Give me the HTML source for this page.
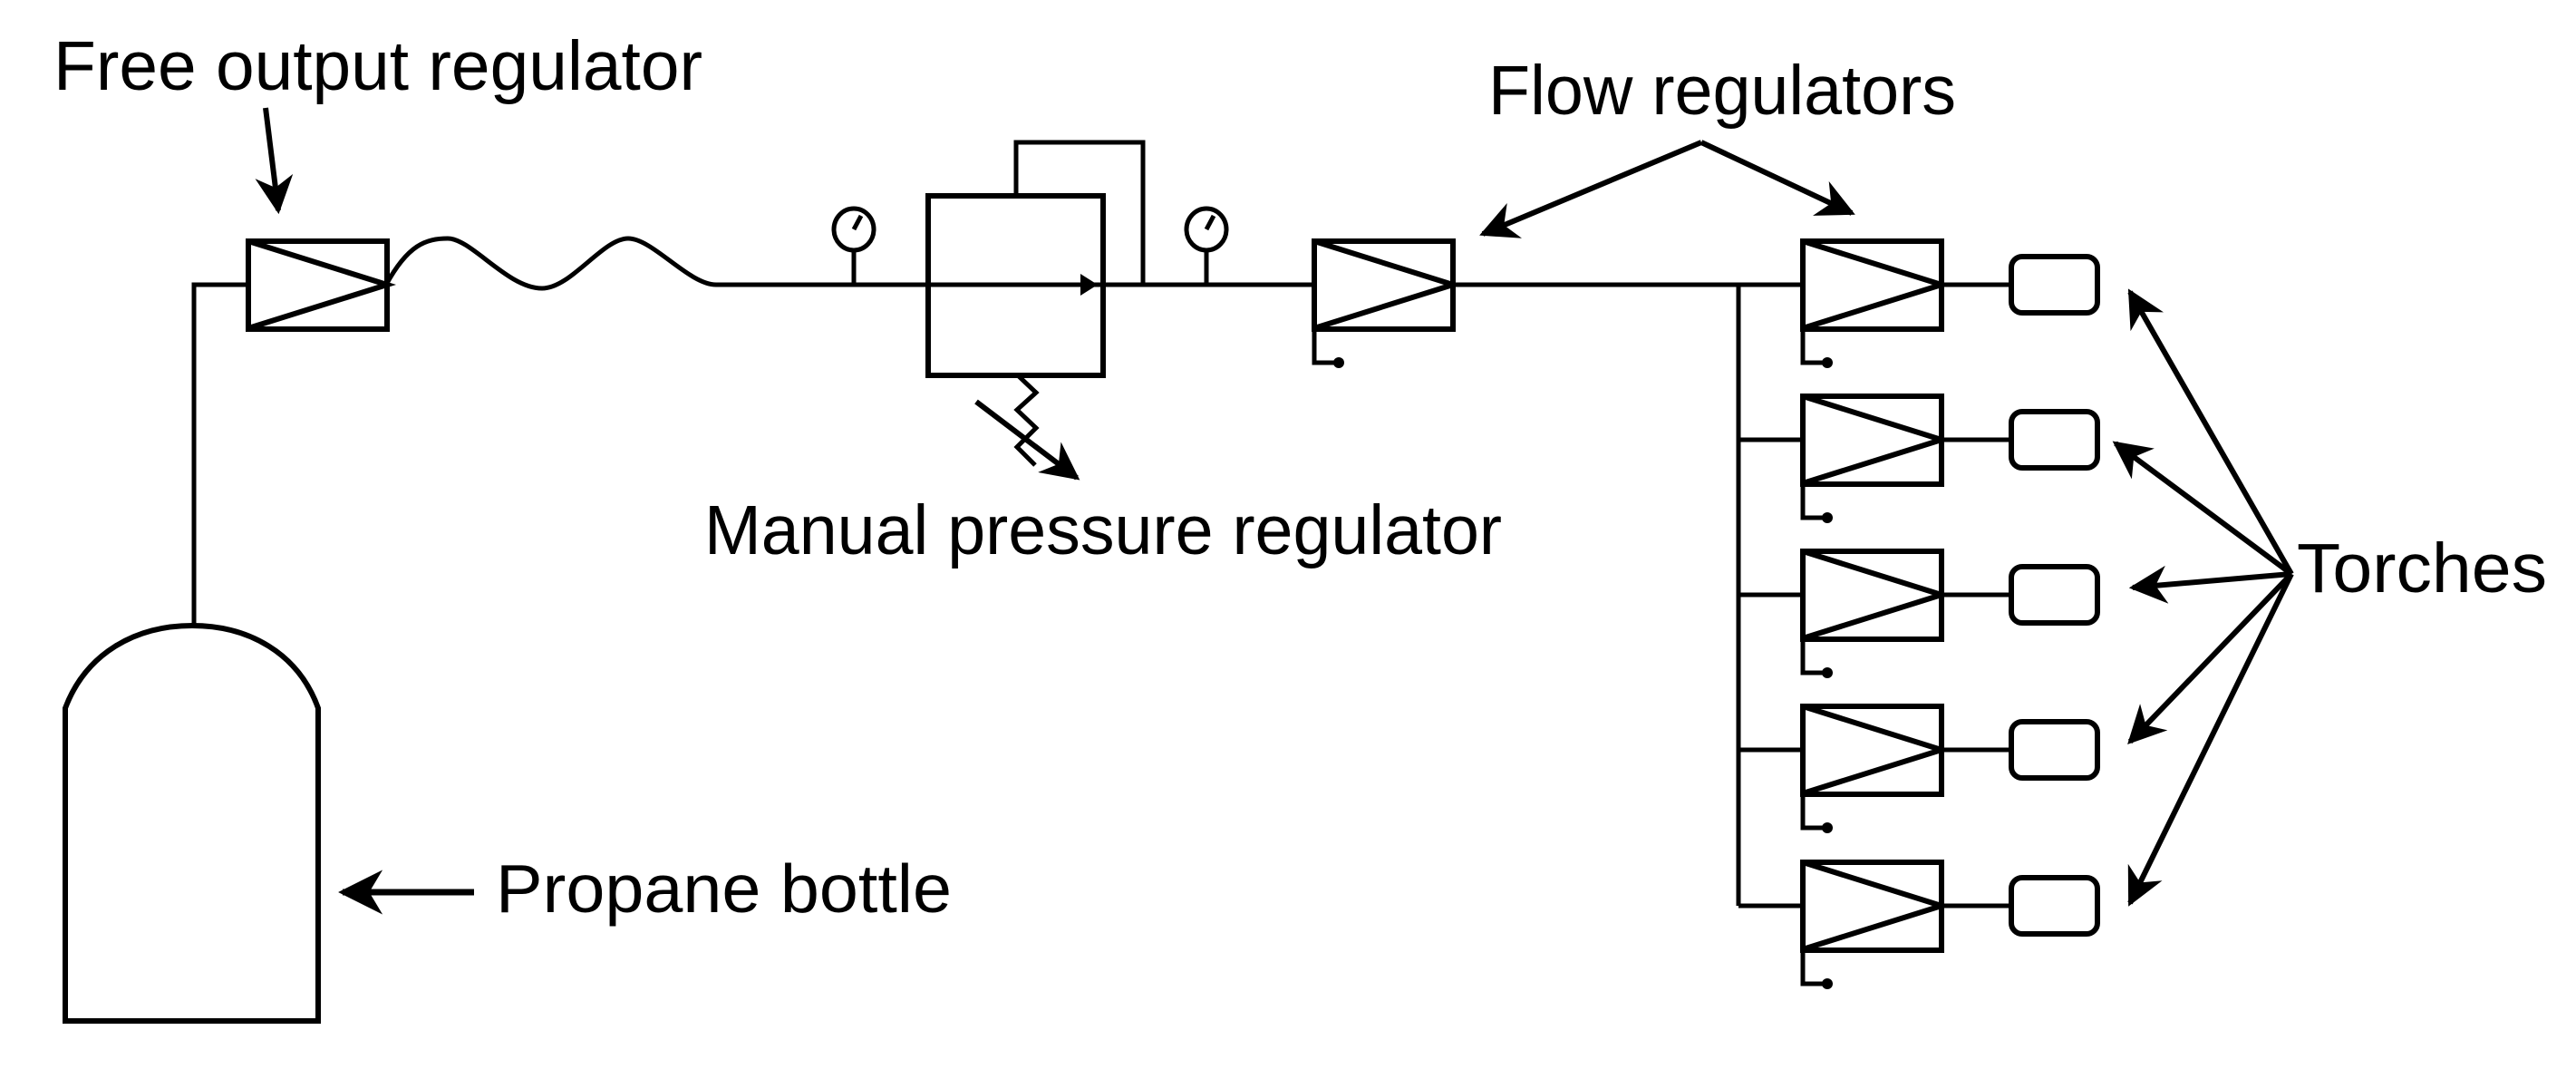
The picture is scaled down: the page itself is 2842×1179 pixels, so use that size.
<!DOCTYPE html>
<html><head><meta charset="utf-8"><style>
html,body{margin:0;padding:0;background:#fff;}
svg{display:block;}
text{font-family:"Liberation Sans",Arial,sans-serif;fill:#000;}
</style></head><body>
<svg width="2842" height="1179" viewBox="0 0 2842 1179" xmlns="http://www.w3.org/2000/svg">
<defs>
<marker id="ah" viewBox="0 0 10 10" refX="9" refY="5" markerWidth="7" markerHeight="7" orient="auto-start-reverse" markerUnits="strokeWidth">
<path d="M0,0 L10,5 L0,10 L3,5 z" fill="#000"/>
</marker>
<g id="reg">
<rect x="0" y="-48" width="153" height="97" fill="#fff" stroke="#000" stroke-width="6"/>
<path d="M0,-48 L153,0 L0,48" fill="none" stroke="#000" stroke-width="6"/>
</g>
<g id="freg">
<use href="#reg"/>
<path d="M0,48 V86 H26" fill="none" stroke="#000" stroke-width="5"/>
<circle cx="27" cy="86" r="6" fill="#000"/>
</g>
<g id="torch">
<rect x="77" y="-31" width="95" height="62" rx="12" fill="#fff" stroke="#000" stroke-width="6"/>
</g>
</defs>

<g fill="none" stroke="#000" stroke-width="5">
<path d="M72,1126 V781 C95,720 150,690 212,690 C274,690 329,720 351,781 V1126 Z" stroke-width="6"/>
<path d="M214,690 V314 H274"/>
<path d="M426,314 C450,270 470,263 494,263 C520,263 560,318 598,318 C630,318 665,263 693,263 C720,263 760,314 790,314 H1989"/>
<line x1="942" y1="276" x2="942" y2="314"/>
<ellipse cx="942" cy="253" rx="22" ry="23" fill="#fff"/>
<line x1="942" y1="253" x2="950" y2="238"/>
<line x1="1331" y1="276" x2="1331" y2="314"/>
<ellipse cx="1331" cy="253" rx="22" ry="23" fill="#fff"/>
<line x1="1331" y1="253" x2="1339" y2="238"/>
<rect x="1024" y="216" width="193" height="198" stroke-width="6"/>
<path d="M1121,216 V157 H1261 V314"/>
<line x1="1024" y1="314" x2="1217" y2="314"/>
<path d="M1123,414 L1143,433 L1122,452 L1143,472 L1122,493 L1142,513"/>
<line x1="1077" y1="443" x2="1188" y2="527" stroke-width="6" marker-end="url(#ah)"/>
<path d="M1601,314 H1989"/>
<path d="M1918,314 V999"/>
<path d="M1918,485 H1989 M1918,656 H1989 M1918,827 H1989 M1918,999 H1989"/>
<path d="M2142,314 H2219 M2142,485 H2219 M2142,656 H2219 M2142,827 H2219 M2142,999 H2219"/>
</g>
<path d="M1192,302 L1211,314 L1192,326 Z" fill="#000"/>

<use href="#reg" x="274" y="314"/>
<use href="#freg" x="1450" y="314"/>
<use href="#freg" x="1989" y="314"/>
<use href="#freg" x="1989" y="485"/>
<use href="#freg" x="1989" y="656"/>
<use href="#freg" x="1989" y="827"/>
<use href="#freg" x="1989" y="999"/>
<use href="#torch" x="2142" y="314"/>
<use href="#torch" x="2142" y="485"/>
<use href="#torch" x="2142" y="656"/>
<use href="#torch" x="2142" y="827"/>
<use href="#torch" x="2142" y="999"/>

<g fill="none" stroke="#000" stroke-width="6">
<line x1="293" y1="119" x2="307" y2="232" marker-end="url(#ah)"/>
<line x1="523" y1="984" x2="378" y2="984" stroke-width="7" marker-end="url(#ah)"/>
<line x1="1877" y1="157" x2="1636" y2="258" marker-end="url(#ah)"/>
<line x1="1877" y1="157" x2="2043" y2="235" marker-end="url(#ah)"/>
<line x1="2528" y1="633" x2="2350" y2="322" marker-end="url(#ah)"/>
<line x1="2528" y1="633" x2="2334" y2="489" marker-end="url(#ah)"/>
<line x1="2528" y1="633" x2="2353" y2="648" marker-end="url(#ah)"/>
<line x1="2528" y1="633" x2="2350" y2="818" marker-end="url(#ah)"/>
<line x1="2528" y1="633" x2="2350" y2="996" marker-end="url(#ah)"/>
</g>

<text x="59" y="99" font-size="77" textLength="716" lengthAdjust="spacingAndGlyphs">Free output regulator</text>
<text x="1642" y="126" font-size="77" textLength="516" lengthAdjust="spacingAndGlyphs">Flow regulators</text>
<text x="777" y="611" font-size="77" textLength="880" lengthAdjust="spacingAndGlyphs">Manual pressure regulator</text>
<text x="2534" y="653" font-size="77" textLength="276" lengthAdjust="spacingAndGlyphs">Torches</text>
<text x="547" y="1006" font-size="75" textLength="503" lengthAdjust="spacingAndGlyphs">Propane bottle</text>
</svg>
</body></html>
